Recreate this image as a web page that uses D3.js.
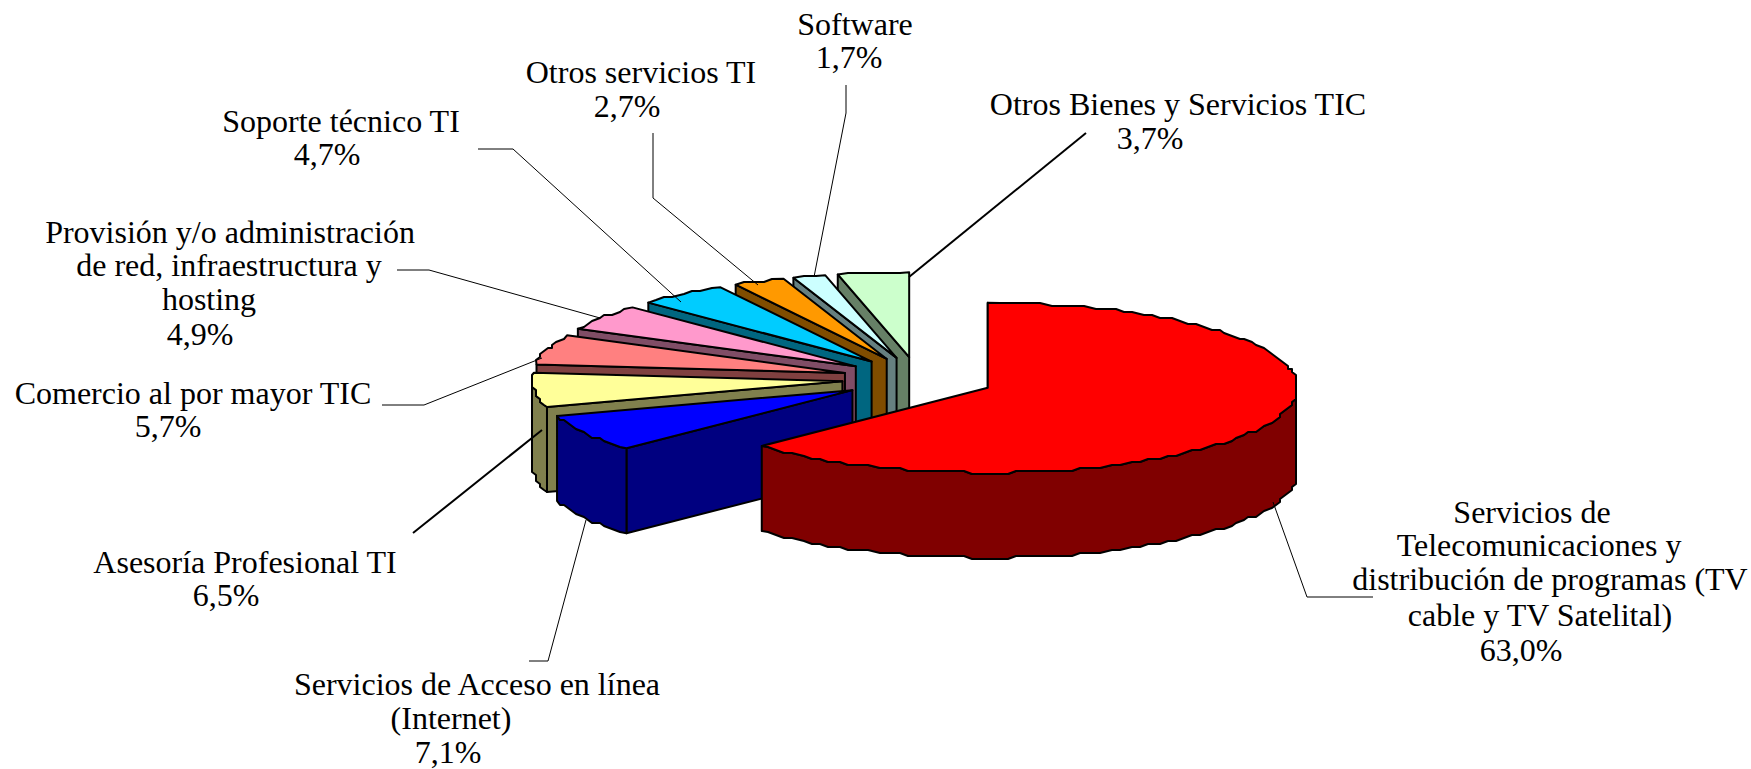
<!DOCTYPE html>
<html>
<head>
<meta charset="utf-8">
<script src="https://cdn.jsdelivr.net/npm/d3@7"></script>
<style>
    html, body { margin:0; padding:0; background:#fff; }
    svg { display:block; }
    text { font-family:"Liberation Serif", serif; font-size:32px; fill:#000; }
</style>
</head>
<body>
<div id="chart"></div>
<script>
// data
const categories = [
    ["Servicios de", "Telecomunicaciones y", "distribución de programas (TV", "cable y TV Satelital)"],
    ["Servicios de Acceso en línea", "(Internet)"],
    ["Asesoría Profesional TI"],
    ["Comercio al por mayor TIC"],
    ["Provisión y/o administración", "de red, infraestructura y", "hosting"],
    ["Soporte técnico TI"],
    ["Otros servicios TI"],
    ["Software"],
    ["Otros Bienes y Servicios TIC"]
];
const values = [63.0, 7.1, 6.5, 5.7, 4.9, 4.7, 2.7, 1.7, 3.7];
const valueLabels = ["63,0%", "7,1%", "6,5%", "5,7%", "4,9%", "4,7%", "2,7%", "1,7%", "3,7%"];

// layout, separate from the values
const topColours = ["#FF0000", "#0000FF", "#FFFF99", "#FF8080", "#FF99CC", "#00CCFF", "#FF9900", "#CCFFFF", "#CCFFCC"];
const sideColours = ["#800000", "#000080", "#80804D", "#804040", "#804D66", "#006680", "#804D00", "#668080", "#668066"];
// [centre x, baseline y] of each text line, the last one being the percentage
const labelLines = [
    [[1532, 523], [1539, 556], [1550, 590], [1540, 626], [1521, 661]],
    [[477, 695], [451, 729], [448, 763]],
    [[245, 573], [226, 606]],
    [[193, 404], [168, 437]],
    [[230, 243], [229, 276], [209, 310], [200, 345]],
    [[341, 132], [327, 165]],
    [[641, 83], [627, 117]],
    [[855, 35], [849, 68]],
    [[1178, 115], [1150, 149]]
];
const leaders = [
    { width:1, points:[[1373, 597], [1307, 597], [1273, 502]] },
    { width:1, points:[[529, 661], [548, 661], [586, 520]] },
    { width:2, points:[[413, 533], [542, 430]] },
    { width:1, points:[[382, 405], [424, 405], [542, 358]] },
    { width:1, points:[[397, 270], [429, 270], [600, 318]] },
    { width:1, points:[[478, 149], [513, 149], [681, 302]] },
    { width:1, points:[[653, 133], [653, 198], [758, 285]] },
    { width:1, points:[[846, 85], [846, 113], [814, 277]] },
    { width:2, points:[[1086, 133], [909, 277]] }
];

const width = 1751;
const height = 769;
const pieCentre = { x:918, y:379 };
const radiusX = 310;
const radiusY = 85;
const depth = 85;
const explodeX = 76;
const explodeY = 22;
const rimGrid = { x:4, y:3 };

const svg = d3.select("#chart").append("svg")
    .attr("width", width)
    .attr("height", height);

const arcs = d3.pie().sort(null)(values);

// the flattened circle, unit coords to page px
const rimX = d3.scaleLinear().domain([-1, 1]).range([-radiusX, radiusX]);
const rimY = d3.scaleLinear().domain([-1, 1]).range([-radiusY, radiusY]);
const line = d3.line();
const closed = d3.line().curve(d3.curveLinearClosed);

function apexOf(arc){
    const mid = (arc.startAngle + arc.endAngle) / 2;
    return [
        pieCentre.x + explodeX * Math.sin(mid),
        pieCentre.y - explodeY * Math.cos(mid)
    ];
}

function rimPoint(apex, angle){
    return [apex[0] + rimX(Math.sin(angle)), apex[1] + rimY(-Math.cos(angle))];
}

// the rim of the source is a coarse stepped polygon, so snap the inner points to a grid
function rimPoints(apex, from, to){
    const n = Math.max(1, Math.round((to - from) / (Math.PI / 90)));
    return d3.range(n + 1).map(k => {
        const angle = from + (to - from) * k / n;
        const p = rimPoint(apex, angle);
        if(k === 0 || k === n){ return { angle, p }; }
        return {
            angle,
            p:[
                Math.round(p[0] / rimGrid.x) * rimGrid.x,
                Math.round(p[1] / rimGrid.y) * rimGrid.y
            ]
        };
    });
}

const down = p => [p[0], p[1] + depth];

const slices = arcs.map((arc, i) => ({ arc, i })).reverse();
// back slices first, the big red one last
slices.sort((a, b) => (b.i === 0 ? -1 : a.i === 0 ? 1 : b.i - a.i));

const sliceG = svg.selectAll("g.slice").data(slices).enter()
    .append("g")
        .attr("class", "slice")
        .attr("stroke", "#000")
        .attr("stroke-width", 2)
        .attr("stroke-linejoin", "round");

sliceG.each(function(d){
    const g = d3.select(this);
    const apex = apexOf(d.arc);
    const start = d.arc.startAngle;
    const end = d.arc.endAngle;
    const rim = rimPoints(apex, start, end);

    // straight cut at the start of the slice
    const startPt = rimPoint(apex, start);
    g.append("path")
        .attr("fill", sideColours[d.i])
        .attr("d", closed([apex, startPt, down(startPt), down(apex)]));

    // outer wall, only the front half of the rim can be seen
    const front = rim
        .filter(r => r.angle >= Math.PI / 2 && r.angle <= Math.PI * 1.5)
        .map(r => r.p);
    if(front.length > 1){
        g.append("path")
            .attr("fill", sideColours[d.i])
            .attr("d", closed(front.concat(front.slice().reverse().map(down))));
    }

    // top
    g.append("path")
        .attr("fill", topColours[d.i])
        .attr("d", closed([apex].concat(rim.map(r => r.p))));
});

// leader lines
svg.selectAll("path.leader").data(leaders).enter()
    .append("path")
        .attr("class", "leader")
        .attr("fill", "none")
        .attr("stroke", "#000")
        .attr("stroke-width", d => d.width)
        .attr("d", d => line(d.points));

// labels
svg.selectAll("g.label").data(categories).enter()
    .append("g")
        .attr("class", "label")
        .each(function(d, i){
            const textLines = d.concat(valueLabels[i]);
            d3.select(this).selectAll("text").data(textLines).enter()
                .append("text")
                    .attr("text-anchor", "middle")
                    .attr("x", (t, k) => labelLines[i][k][0])
                    .attr("y", (t, k) => labelLines[i][k][1])
                    .text(t => t);
        });
</script>
</body>
</html>
